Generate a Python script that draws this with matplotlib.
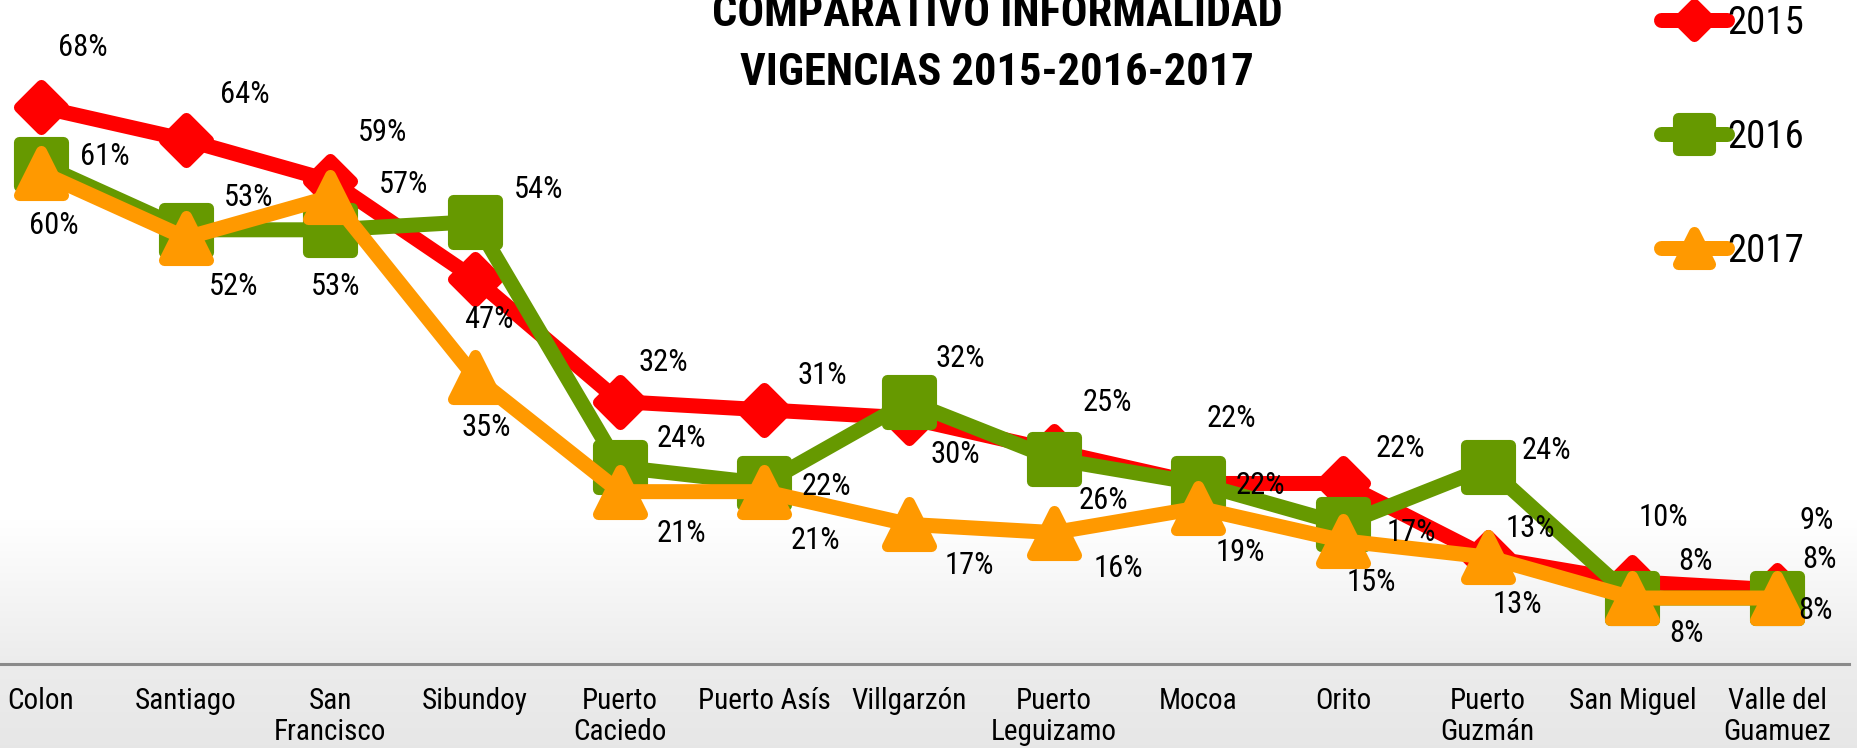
import numpy as np
import matplotlib
matplotlib.use('Agg')
import matplotlib.pyplot as plt
from matplotlib.markers import MarkerStyle
from matplotlib import font_manager as fm

# ---------------- data ----------------
categories = ['Colon', 'Santiago', 'San\nFrancisco', 'Sibundoy', 'Puerto\nCaciedo',
              'Puerto Asís', 'Villgarzón', 'Puerto\nLeguizamo', 'Mocoa', 'Orito',
              'Puerto\nGuzmán', 'San Miguel', 'Valle del\nGuamuez']
v2015 = [68, 64, 59, 47, 32, 31, 30, 26, 22, 22, 13, 10, 9]
v2016 = [61, 53, 53, 54, 24, 22, 32, 25, 22, 17, 24, 8, 8]
v2017 = [60, 52, 57, 35, 21, 21, 17, 16, 19, 15, 13, 8, 8]
series_names = ['2015', '2016', '2017']
title_lines = ['COMPARATIVO INFORMALIDAD', 'VIGENCIAS 2015-2016-2017']

# label offsets in pixels (dx right, dy down)
off2015 = [(42, -60), (59, -45), (52, -48), (14, 41), (44, -39), (58, -34), (46, 36),
           (50, 50), (33, -65), (57, -35), (43, -29), (31, -64), (40, -69)]
off2016 = [(64, -8), (63, -32), (5, 57), (64, -32), (62, -29), (62, 3), (51, -43),
           (54, -56), (62, 2), (68, 8), (59, -17), (63, -37), (42, -39)]
off2017 = [(13, 53), (48, 49), (73, -13), (11, 50), (62, 42), (51, 49), (60, 41),
           (65, 36), (42, 44), (28, 42), (30, 47), (54, 35), (38, 12)]

colors = ['#FF0000', '#669900', '#FF9900']
markers = ['D', 's', '^']

# ---------------- fonts ----------------
names = {f.name for f in fm.fontManager.ttflist}
cands = ['Liberation Sans Narrow', 'Arial Narrow', 'Roboto Condensed',
         'Archivo Narrow', 'Liberation Sans']
NARROW = next((c for c in cands if c in names), 'DejaVu Sans')
FAM = [NARROW, 'DejaVu Sans']
plt.rcParams['font.family'] = FAM

W, H = 1858, 748
fig = plt.figure(figsize=(W / 100, H / 100), dpi=100)

# background gradient
bg = fig.add_axes([0, 0, 1, 1], zorder=-10)
bg.axis('off')
rows = np.arange(H)
val = np.ones(H)
m1 = (rows >= 520) & (rows < 664)
val[m1] = 1.0 - (rows[m1] - 520) / (664 - 520) * 0.075
m2 = rows >= 664
val[m2] = 0.925 - (rows[m2] - 664) / (H - 664) * 0.02
grad = np.repeat(val[:, None, None], 3, axis=2)
bg.imshow(grad, aspect='auto', extent=[0, 1, 0, 1], origin='upper')
bg.set_xlim(0, 1)
bg.set_ylim(0, 1)

# main axes
x0_px, step_px = 41, 144.67
left = (x0_px - 0.5 * step_px) / W
right = (x0_px + 12.5 * step_px) / W
base_px = 663.5
bottom = (H - base_px) / H
ax = fig.add_axes([left, bottom, right - left, 1 - bottom])
ax.patch.set_alpha(0)
ax.set_xlim(-0.5, 12.5)
ax.set_ylim(0, base_px / 8.183)
for s in ['top', 'left', 'right']:
    ax.spines[s].set_visible(False)
ax.spines['bottom'].set_color('#8a8a8a')
ax.spines['bottom'].set_linewidth(2.2)
ax.set_yticks([])
x = np.arange(len(categories))
ax.set_xticks(x, categories)
ax.tick_params(axis='x', length=0, pad=17, labelsize=21)
for lab in ax.get_xticklabels():
    lab.set_linespacing(1.15)

handles = []
allvals = [v2015, v2016, v2017]
alloffs = [off2015, off2016, off2017]
msizes = [22.3, 31.6, 31.6]
for i, (vals, name) in enumerate(zip(allvals, series_names)):
    ms = MarkerStyle(markers[i], joinstyle='round')
    ln, = ax.plot(x, vals, color=colors[i], lw=10.8, marker=ms, markersize=msizes[i],
                  markeredgewidth=8, markeredgecolor=colors[i], markerfacecolor=colors[i],
                  solid_joinstyle='round', solid_capstyle='round', zorder=3 + i,
                  clip_on=False, label=name)
    handles.append(ln)

for vals, offs in zip(allvals, alloffs):
    for xi, v, (dx, dy) in zip(x, vals, offs):
        ax.annotate(f'{v}%', (xi, v), xytext=(dx, -dy), textcoords='offset pixels',
                    ha='center', va='center', fontsize=22, color='black',
                    zorder=10, annotation_clip=False)

# title
fig.text(997 / W, 1 - 26 / H, title_lines[0], ha='center', va='baseline',
         fontsize=32, fontweight='bold')
fig.text(997 / W, 1 - 85 / H, title_lines[1], ha='center', va='baseline',
         fontsize=32, fontweight='bold')

# legend
leg = fig.legend(handles=handles, labels=series_names, loc='upper left',
                 bbox_to_anchor=(1661 / W, 1 - 5 / H), frameon=False, fontsize=28,
                 handlelength=1.7, handletextpad=0.0, labelspacing=1.98,
                 borderpad=0.0, borderaxespad=0.0, markerscale=0.72)

fig.savefig('out.png', dpi=100)
